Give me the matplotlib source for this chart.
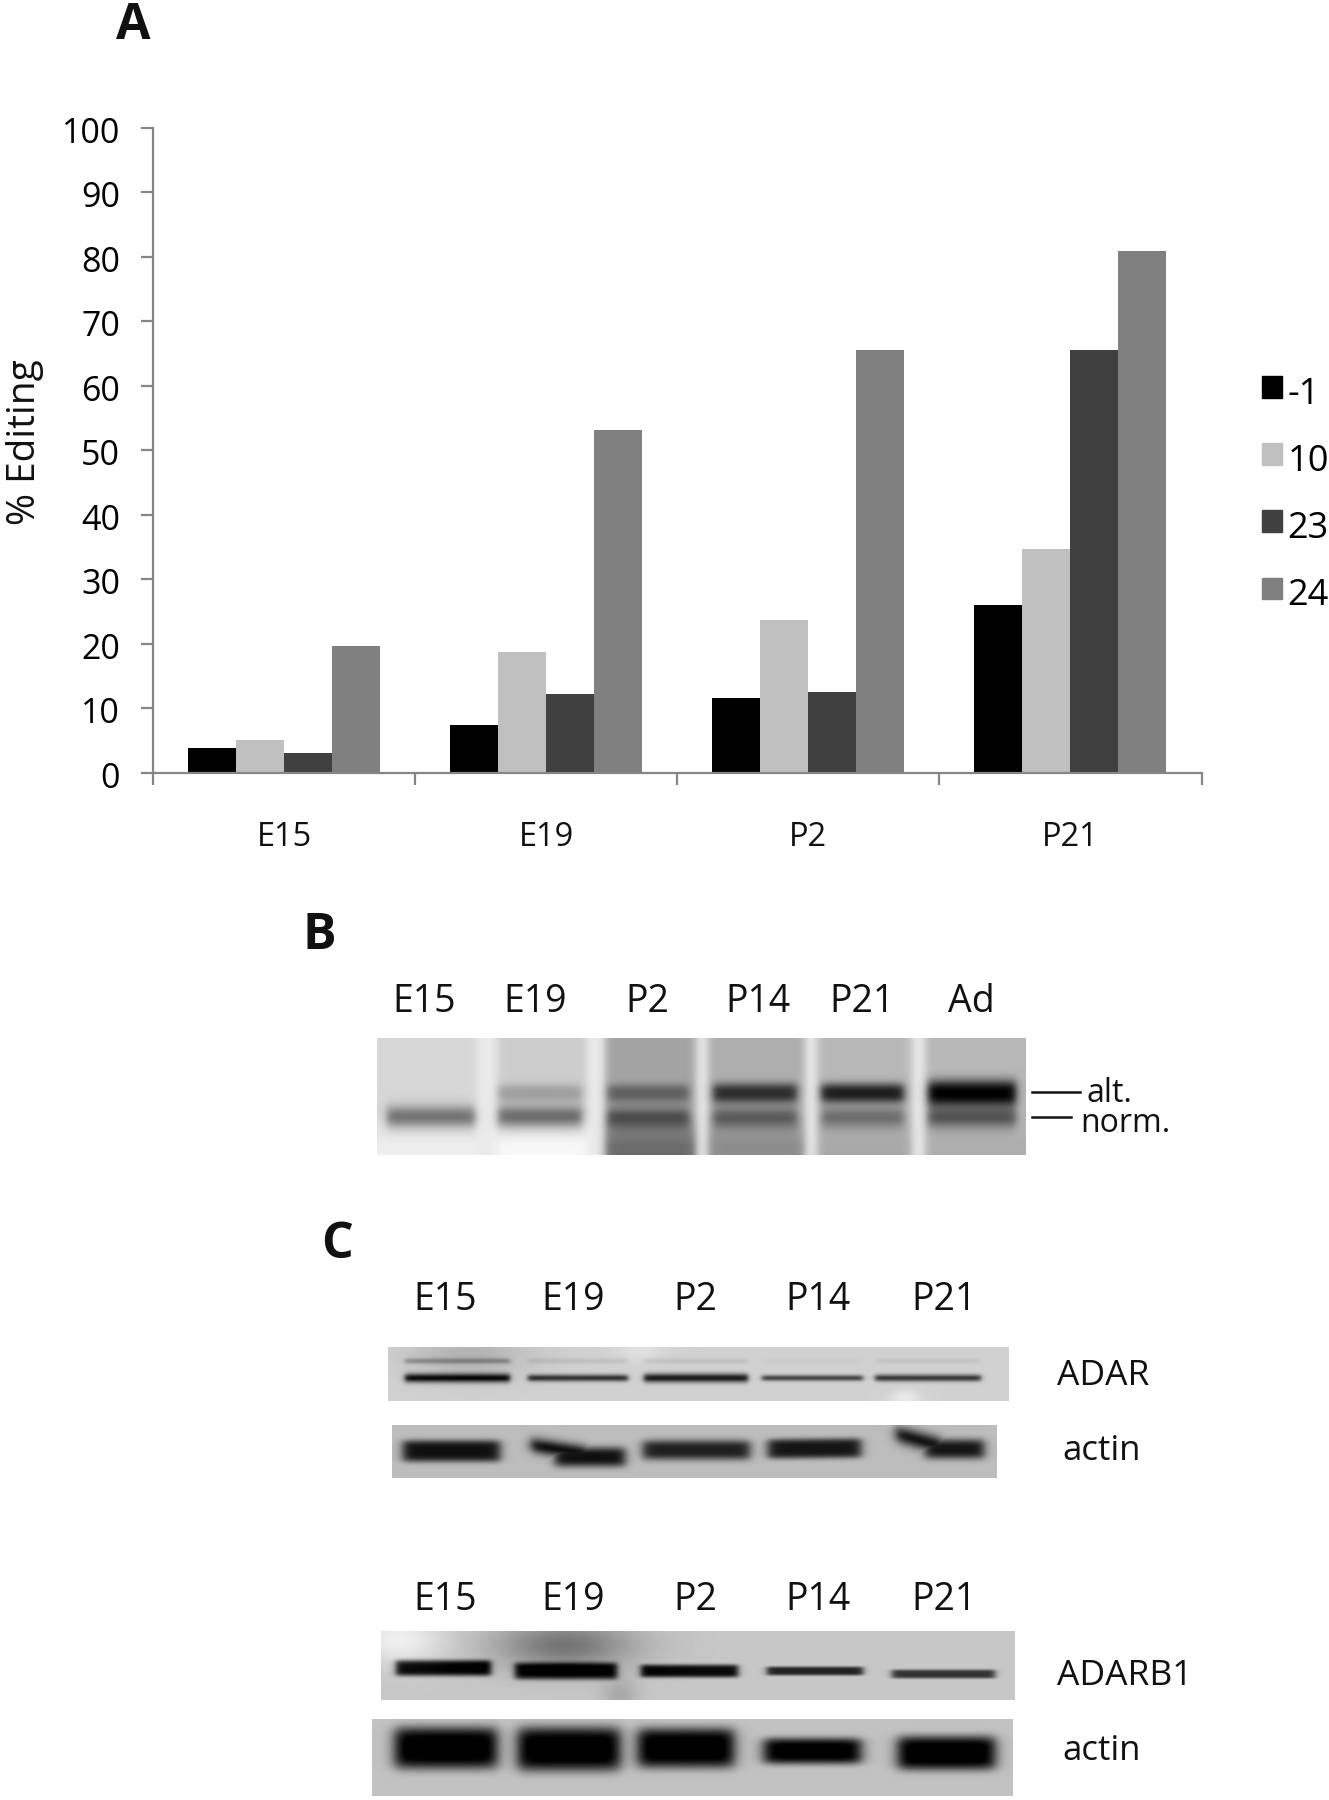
import matplotlib
matplotlib.use("Agg")
import matplotlib.pyplot as plt
import numpy as np
from matplotlib.patches import Patch
from matplotlib.transforms import ScaledTranslation

plt.rcParams["font.family"] = ["Open Sans", "DejaVu Sans"]

# panel A values
stages = ["E15", "E19", "P2", "P21"]
series_names = ["-1", "10", "23", "24"]
site_m1 = [3.9, 7.5, 11.6, 26.0]
site_10 = [5.1, 18.8, 23.7, 34.7]
site_23 = [3.1, 12.3, 12.5, 65.5]
site_24 = [19.6, 53.2, 65.5, 80.9]
y_ticks = list(range(0, 101, 10))

# panel B and C lane names and band strengths (0 = no band)
gel_lanes = ["E15", "E19", "P2", "P14", "P21", "Ad"]
alt_band = [0.0, 0.17, 0.26, 0.50, 0.60, 0.72]
norm_band = [0.40, 0.40, 0.34, 0.30, 0.28, 0.38]
gel_bg_top = [0.84, 0.80, 0.64, 0.68, 0.72, 0.72]
gel_bg_bottom = [0.93, 0.97, 0.42, 0.55, 0.66, 0.68]

blot_lanes = ["E15", "E19", "P2", "P14", "P21"]
adar_band = [0.75, 0.62, 0.72, 0.55, 0.60]
adar_upper = [0.22, 0.07, 0.07, 0.02, 0.05]
actin1_band = [0.68, 0.68, 0.62, 0.66, 0.66]
adarb1_band = [0.78, 0.72, 0.75, 0.65, 0.58]
actin2_band = [0.82, 0.82, 0.82, 0.80, 0.82]

W, H = 1329, 1800
fig = plt.figure(figsize=(W / 100, H / 100), dpi=100, facecolor="white")

# bar chart
ax = fig.add_axes([153 / W, 1 - 773 / H, (1201.5 - 153) / W, 645.5 / H])
colors = ["#000000", "#c0c0c0", "#404040", "#808080"]
bar_w = 0.183
x = np.arange(len(stages)) + 0.5
for i, (vals, c) in enumerate(zip([site_m1, site_10, site_23, site_24], colors)):
    ax.bar(x + (i - 1.5) * bar_w, vals, bar_w, color=c, label=series_names[i], zorder=2)
ax.set_xlim(0, 4)
ax.set_ylim(0, 100)
ax.set_yticks(y_ticks)
ax.set_xticks(range(5))
ax.set_xticklabels([])
for s in ["top", "right"]:
    ax.spines[s].set_visible(False)
for s in ["left", "bottom"]:
    ax.spines[s].set_color("#868686")
    ax.spines[s].set_linewidth(1.6)
    ax.spines[s].set_zorder(3)
ax.tick_params(axis="both", color="#868686", width=1.6, length=8.6)
ax.tick_params(axis="y", labelsize=24.5, pad=15)
# tick labels sit a little under their ticks in the reference
down = ScaledTranslation(0, -2 / 100, fig.dpi_scale_trans)
for lab in ax.get_yticklabels():
    lab.set_transform(lab.get_transform() + down)
for xc, name in zip(x, stages):
    ax.text(xc, -64.5 / 6.455, name, fontsize=23.5, ha="center", va="center", color="#111111")

handles = [Patch(color=c, label=n) for c, n in zip(colors, series_names)]
leg = fig.legend(handles=handles, loc="upper left", bbox_to_anchor=(1262 / W, 1 - 373 / H),
                 frameon=False, fontsize=26, handlelength=0.55, handleheight=0.55,
                 handletextpad=0.16, labelspacing=0.86, borderpad=0, borderaxespad=0)
for t in leg.get_texts():
    t.set_y(-4)

# page axes in pixel coordinates for blots and free text
page = fig.add_axes([0, 0, 1, 1], zorder=-1)
page.set_xlim(0, W)
page.set_ylim(H, 0)
page.axis("off")


def box(xx, x0, x1, s):
    return 0.5 * (np.tanh((xx - x0) / s) - np.tanh((xx - x1) / s))


def add_band(img, xx, yy, x0, x1, y0, y1, half, strength, edge=4.0, power=4):
    t = np.clip((xx - x0) / (x1 - x0), 0, 1)
    yc = y0 + (y1 - y0) * t
    img -= strength * box(xx, x0, x1, edge) * np.exp(-np.abs((yy - yc) / half) ** power)


def grid(x0, x1, y0, y1):
    return np.meshgrid(np.arange(x0, x1) + 0.5, np.arange(y0, y1) + 0.5)


def show(img, x0, x1, y0, y1):
    page.imshow(np.clip(img, 0, 1), cmap="gray", vmin=0, vmax=1, extent=(x0, x1, y1, y0),
                aspect="auto", interpolation="bilinear")


# panel B gel
gx0, gx1, gy0, gy1 = 377, 1026, 1038, 1155
xx, yy = grid(gx0, gx1, gy0, gy1)
lane_x = [(387, 475), (498, 582), (607, 689), (713, 797), (821, 904), (928, 1016)]
lane_edges = [(gx0 - 30, 477), (497, 587), (605, 696), (708, 805), (817, 912), (925, gx1 + 30)]
alt_half = [9, 9, 9, 10, 10, 13]
gel = np.full(xx.shape, 0.92)
frac = (yy - gy0) / (gy1 - gy0)
for k, (a, b) in enumerate(lane_edges):
    mask = box(xx, a, b, 5.0)
    # lanes keep their top level down to the bands, then shift to the bottom level
    step = np.clip((frac - 0.62) / 0.30, 0, 1)
    bg = gel_bg_top[k] + (gel_bg_bottom[k] - gel_bg_top[k]) * step
    gel = gel * (1 - mask) + bg * mask
for k, (a, b) in enumerate(lane_x):
    if alt_band[k] > 0:
        add_band(gel, xx, yy, a, b, 1093, 1093, alt_half[k], alt_band[k], edge=5, power=2.5)
    add_band(gel, xx, yy, a, b, 1117, 1117, 11, norm_band[k] - 0.04 * (k == 2), edge=5, power=2)
show(gel, gx0, gx1, gy0, gy1)

page.plot([1032, 1080], [1092, 1092], color="#111111", lw=1.8)
page.plot([1032, 1071], [1117, 1117], color="#111111", lw=1.8)
page.text(1087, 1094, "alt.", fontsize=23, va="center", ha="left", color="#111111")
page.text(1080, 1124, "norm.", fontsize=23, va="center", ha="left", color="#111111")

# panel C blots
xx, yy = grid(388, 1009, 1347, 1401)
adar = np.full(xx.shape, 0.82)
adar += 0.06 * np.exp(-((xx - 640) / 25) ** 2 - ((yy - 1350) / 12) ** 2)
adar -= 0.12 * np.exp(-((xx - 470) / 60) ** 2 - ((yy - 1355) / 25) ** 2)
adar += 0.10 * np.exp(-((xx - 905) / 15) ** 2 - ((yy - 1398) / 8) ** 2)
adar_x = [(405, 510), (528, 628), (644, 748), (762, 863), (875, 981)]
adar_half = [4.5, 3.5, 4.5, 3, 3.5]
for k, (a, b) in enumerate(adar_x):
    add_band(adar, xx, yy, a, b, 1378, 1378, adar_half[k], adar_band[k], edge=3, power=2)
    add_band(adar, xx, yy, a, b, 1361, 1361, 3, adar_upper[k], edge=3, power=2)
show(adar, 388, 1009, 1347, 1401)

xx, yy = grid(392, 997, 1425, 1478)
actin1 = np.full(xx.shape, 0.74)
# lanes 2 and 5 are made of two overlapping pieces: soft shoulder, thick body
actin1_parts = [
    [(403, 500, 1451, 1451, 11, 4)],
    [(531, 590, 1445, 1454, 8, 2), (555, 625, 1457, 1457, 10, 3)],
    [(643, 750, 1450, 1450, 10, 3)],
    [(768, 861, 1449, 1448, 10, 4)],
    [(896, 945, 1434, 1447, 9, 2), (925, 984, 1449, 1449, 10, 3)],
]
for k, parts in enumerate(actin1_parts):
    for a, b, y0, y1, half, pw in parts:
        piece = np.zeros(xx.shape)
        add_band(piece, xx, yy, a, b, y0, y1, half, actin1_band[k], edge=6, power=pw)
        actin1 = np.minimum(actin1, 0.74 + piece)
show(actin1, 392, 997, 1425, 1478)

xx, yy = grid(381, 1015, 1631, 1700)
adarb1 = np.full(xx.shape, 0.78)
adarb1 += 0.16 * np.exp(-((xx - 400) / 45) ** 2 - ((yy - 1640) / 25) ** 2)
adarb1 -= 0.32 * np.exp(-((xx - 565) / 70) ** 2 - ((yy - 1645) / 25) ** 2)
adarb1 -= 0.12 * np.exp(-((xx - 620) / 18) ** 2 - ((yy - 1695) / 16) ** 2)
adarb1_x = [(396, 491), (515, 617), (641, 738), (767, 863), (892, 995)]
adarb1_y = [1668, 1671, 1671, 1671, 1674]
adarb1_half = [8, 8.5, 6.5, 4.5, 4.5]
for k, (a, b) in enumerate(adarb1_x):
    add_band(adarb1, xx, yy, a, b, adarb1_y[k], adarb1_y[k], adarb1_half[k], adarb1_band[k], edge=4)
show(adarb1, 381, 1015, 1631, 1700)

xx, yy = grid(372, 1013, 1719, 1796)
actin2 = np.full(xx.shape, 0.76)
actin2_x = [(395, 497), (518, 620), (638, 734), (764, 861), (898, 995)]
actin2_y = [1748, 1749, 1748, 1751, 1753]
actin2_half = [21, 22, 20, 13, 17]
for k, (a, b) in enumerate(actin2_x):
    add_band(actin2, xx, yy, a, b, actin2_y[k], actin2_y[k], actin2_half[k], actin2_band[k], edge=8)
show(actin2, 372, 1013, 1719, 1796)

page.set_xlim(0, W)
page.set_ylim(H, 0)

# lane headers
gel_label_x = [424, 535, 647, 758, 862, 971]
for lx, name in zip(gel_label_x, gel_lanes):
    page.text(lx, 1002.5, name, fontsize=27, ha="center", va="center", color="#111111")
blot_label_x = [445, 573, 695, 818, 944]
for ly in [1299.5, 1599.5]:
    for lx, name in zip(blot_label_x, blot_lanes):
        page.text(lx, ly, name, fontsize=27, ha="center", va="center", color="#111111")

page.text(1057, 1376, "ADAR", fontsize=25.5, ha="left", va="center", color="#111111")
page.text(1062, 1451, "actin", fontsize=25, ha="left", va="center", color="#111111")
page.text(1057, 1676, "ADARB1", fontsize=25.5, ha="left", va="center", color="#111111")
page.text(1062, 1751, "actin", fontsize=25, ha="left", va="center", color="#111111")

# panel letters and axis title
page.text(133, 26, "A", fontsize=36, fontweight="bold", ha="center", va="center", color="#111111")
page.text(319, 936, "B", fontsize=36, fontweight="bold", ha="center", va="center", color="#111111")
page.text(337, 1245, "C", fontsize=36, fontweight="bold", ha="center", va="center", color="#111111")
page.text(25, 442, "% Editing", fontsize=28, rotation=90, ha="center", va="center", color="#111111")

fig.savefig("out.png", dpi=100)
